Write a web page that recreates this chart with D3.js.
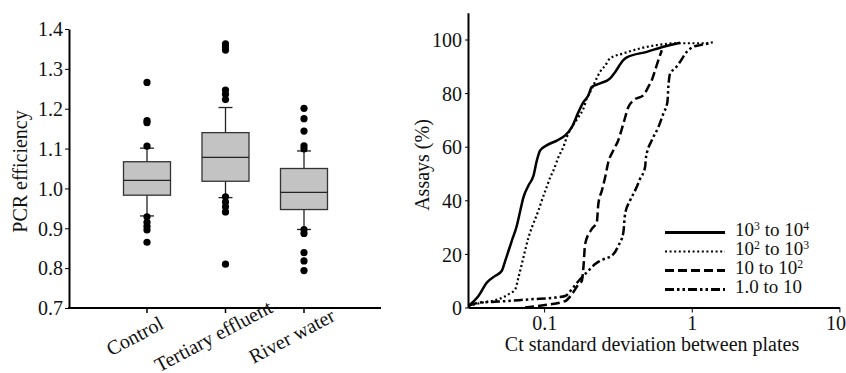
<!DOCTYPE html>
<html>
<head>
<meta charset="utf-8">
<script src="https://cdn.jsdelivr.net/npm/d3@7"></script>
<style>
  body { margin: 0; background: #fff; }
  svg text { font-family: "Liberation Serif", "Times New Roman", serif; fill: #111; }
</style>
</head>
<body>
<div id="chart"></div>
<script>
// ---- left panel: PCR efficiency box plots
const groups = ["Control", "Tertiary effluent", "River water"];
const boxQ1 = [0.983, 1.018, 0.947];
const boxMedian = [1.020, 1.078, 0.990];
const boxQ3 = [1.067, 1.140, 1.050];
const whiskerLow = [0.931, 0.977, 0.897];
const whiskerHigh = [1.101, 1.203, 1.094];
const outliers = [
    [1.266, 1.170, 1.165, 1.106, 0.929, 0.915, 0.905, 0.896, 0.865],
    [1.363, 1.355, 1.347, 1.247, 1.236, 1.223, 0.979, 0.966, 0.954, 0.941, 0.810],
    [1.201, 1.175, 1.144, 1.107, 1.099, 0.897, 0.887, 0.839, 0.818, 0.794]
];
const effTicks = [0.7, 0.8, 0.9, 1.0, 1.1, 1.2, 1.3, 1.4];

// ---- right panel: cumulative % of assays vs Ct SD
const seriesNames = ["10^3 to 10^4", "10^2 to 10^3", "10 to 10^2", "1.0 to 10"];
const sd1e3 = [[0.0307, 0.6], [0.0359, 4.3], [0.0409, 9.3], [0.0466, 11.8], [0.0517, 13.7], [0.0545, 17.4],
    [0.0604, 24.9], [0.0653, 30.5], [0.0689, 36.1], [0.0724, 41.1], [0.0783, 45.5], [0.0847, 49.2],
    [0.0893, 54.9], [0.094, 58.6], [0.104, 60.5], [0.122, 62.3], [0.139, 64.2], [0.154, 67.3],
    [0.171, 73.0], [0.185, 76.7], [0.1995, 79.2], [0.210, 82.3], [0.239, 83.6], [0.280, 85.5],
    [0.303, 87.9], [0.344, 92.3], [0.363, 93.3], [0.496, 95.4], [0.643, 97.3], [0.834, 98.8]];
const sd1e2 = [[0.0307, 0.6], [0.0379, 1.8], [0.049, 3.1], [0.0573, 4.9], [0.0637, 6.8], [0.067, 11.2],
    [0.0706, 16.2], [0.0743, 21.2], [0.0783, 26.1], [0.0826, 29.9], [0.0869, 33.0], [0.0914, 36.1],
    [0.0964, 39.9], [0.104, 44.9], [0.110, 48.6], [0.1156, 51.1], [0.125, 56.1], [0.135, 59.9],
    [0.1425, 63.6], [0.154, 67.3], [0.171, 71.1], [0.1845, 74.2], [0.1945, 78.0], [0.205, 80.4],
    [0.221, 84.2], [0.239, 87.9], [0.260, 90.4], [0.280, 93.0], [0.344, 94.8], [0.447, 96.7],
    [0.579, 97.9], [0.791, 98.6], [0.974, 98.6], [1.26, 98.6], [1.39, 99.0]];
const sd1e1 = [[0.0743, 0.0], [0.1016, 0.9], [0.139, 2.4], [0.154, 4.9], [0.171, 8.7], [0.180, 9.9],
    [0.1845, 14.9], [0.1896, 23.7], [0.2105, 29.3], [0.2274, 31.8], [0.233, 38.7], [0.246, 43.6],
    [0.259, 48.6], [0.272, 54.2], [0.294, 58.6], [0.318, 62.4], [0.344, 68.6], [0.372, 74.8],
    [0.403, 77.3], [0.470, 79.2], [0.508, 82.3], [0.536, 84.8], [0.565, 88.6], [0.594, 92.3], [0.627, 96.0]];
const sd1e0 = [[0.0307, 0.6], [0.0359, 1.8], [0.049, 2.2], [0.0826, 3.1], [0.1187, 3.7], [0.139, 4.3],
    [0.154, 6.8], [0.171, 9.9], [0.1995, 13.7], [0.2215, 16.2], [0.239, 17.4], [0.2945, 19.9],
    [0.318, 23.0], [0.344, 28.0], [0.3535, 34.9], [0.382, 39.9], [0.413, 43.6], [0.4467, 48.0],
    [0.483, 52.4], [0.490, 56.1], [0.536, 62.4], [0.594, 67.3], [0.642, 72.4], [0.684, 76.7],
    [0.694, 82.3], [0.713, 87.3], [0.771, 89.2], [0.834, 91.7], [0.925, 95.4], [1.025, 97.3],
    [1.138, 97.9], [1.33, 98.6]];
const seriesData = [sd1e3, sd1e2, sd1e1, sd1e0];
const seriesDash = [null, "2,2.6", "9,4", "9,3,2.5,3,2.5,3"];
const pctTicks = [0, 20, 40, 60, 80, 100];
const sdTicks = [0.1, 1, 10];

const W = 846, H = 373;
const svg = d3.select("#chart").append("svg")
    .attr("width", W)
    .attr("height", H);

const fs = 20;

// ================= left panel =================
const yEff = d3.scaleLinear().domain([0.7, 1.4]).range([308, 29]);
const xGrp = d3.scalePoint().domain(groups).range([147, 304]);
const left = svg.append("g");

// y axis
const yAxL = left.append("g")
    .attr("transform", "translate(69,0)")
    .call(d3.axisLeft(yEff).tickValues(effTicks).tickFormat(d3.format(".1f")).tickSize(4).tickSizeOuter(0));
yAxL.select(".domain").attr("stroke-width", 2);
yAxL.selectAll("text").attr("font-size", fs).attr("x", -6).attr("dy", "0.34em");

// x axis line with category ticks
left.append("line")
    .attr("x1", 68).attr("x2", 381)
    .attr("y1", yEff(0.7)).attr("y2", yEff(0.7))
    .attr("stroke", "#000").attr("stroke-width", 2);
left.selectAll(".gtick")
    .data(groups)
    .enter()
    .append("line")
    .attr("x1", d => xGrp(d)).attr("x2", d => xGrp(d))
    .attr("y1", yEff(0.7)).attr("y2", yEff(0.7) + 5)
    .attr("stroke", "#000").attr("stroke-width", 1.5);
left.selectAll(".glabel")
    .data(groups)
    .enter()
    .append("text")
    .attr("font-size", fs)
    .attr("text-anchor", "middle")
    .attr("transform", d => `translate(${xGrp(d) - 9},${yEff(0.7) + 34})rotate(-28)`)
    .text(d => d);

left.append("text")
    .attr("font-size", fs)
    .attr("text-anchor", "middle")
    .attr("transform", `translate(27,${(yEff(0.7) + yEff(1.4)) / 2 + 3})rotate(-90)`)
    .text("PCR efficiency");

// boxes
const boxW = 47, capW = 14;
groups.forEach((g, i) => {
    const cx = xGrp(g);
    const gg = left.append("g");
    gg.append("line")
        .attr("x1", cx).attr("x2", cx)
        .attr("y1", yEff(whiskerHigh[i])).attr("y2", yEff(whiskerLow[i]))
        .attr("stroke", "#222").attr("stroke-width", 1.3);
    [whiskerHigh[i], whiskerLow[i]].forEach(v => {
        gg.append("line")
            .attr("x1", cx - capW / 2).attr("x2", cx + capW / 2)
            .attr("y1", yEff(v)).attr("y2", yEff(v))
            .attr("stroke", "#222").attr("stroke-width", 1.3);
    });
    gg.append("rect")
        .attr("x", cx - boxW / 2)
        .attr("y", yEff(boxQ3[i]))
        .attr("width", boxW)
        .attr("height", yEff(boxQ1[i]) - yEff(boxQ3[i]))
        .attr("fill", "#c3c3c3")
        .attr("stroke", "#333").attr("stroke-width", 1.3);
    gg.append("line")
        .attr("x1", cx - boxW / 2).attr("x2", cx + boxW / 2)
        .attr("y1", yEff(boxMedian[i])).attr("y2", yEff(boxMedian[i]))
        .attr("stroke", "#222").attr("stroke-width", 1.3);
    gg.selectAll("circle")
        .data(outliers[i])
        .enter()
        .append("circle")
        .attr("cx", cx)
        .attr("cy", d => yEff(d))
        .attr("r", 3.6)
        .attr("fill", "#000");
});

// ================= right panel =================
const xSd = d3.scaleLog().domain([0.0305, 10]).range([468, 839.4]);
const yPct = d3.scaleLinear().domain([0, 110]).range([307.5, 12.7]);
const right = svg.append("g");

const xAxR = right.append("g")
    .attr("transform", `translate(0,${yPct(0)})`)
    .call(d3.axisBottom(xSd).tickValues(sdTicks).tickFormat(d3.format("")).tickSize(5).tickSizeOuter(0));
xAxR.select(".domain").attr("stroke-width", 2);
xAxR.selectAll("text").attr("font-size", fs).attr("y", 8);
xAxR.selectAll(".tick:last-of-type text").attr("dx", -4);

const yAxR = right.append("g")
    .attr("transform", `translate(${xSd.range()[0]},0)`)
    .call(d3.axisLeft(yPct).tickValues(pctTicks).tickSize(3).tickSizeOuter(0));
yAxR.select(".domain").attr("stroke-width", 2);
yAxR.selectAll("text").attr("font-size", fs).attr("x", -6).attr("dy", "0.36em");

right.append("text")
    .attr("font-size", fs)
    .attr("text-anchor", "middle")
    .attr("x", 652).attr("y", 351)
    .text("Ct standard deviation between plates");

right.append("text")
    .attr("font-size", fs)
    .attr("text-anchor", "middle")
    .attr("transform", `translate(429,165)rotate(-90)`)
    .text("Assays (%)");

const line = d3.line()
    .x(d => xSd(d[0]))
    .y(d => yPct(d[1]))
    .curve(d3.curveMonotoneX);

seriesData.forEach((s, i) => {
    right.append("path")
        .datum(s)
        .attr("fill", "none")
        .attr("stroke", "#000")
        .attr("stroke-width", i === 1 ? 2.2 : 2.5)
        .attr("stroke-dasharray", seriesDash[i])
        .attr("d", line);
});

// legend
const legY = [232.5, 251.5, 270.5, 289.5];
const legFs = 19;
const legend = right.append("g");
seriesNames.forEach((name, i) => {
    legend.append("line")
        .attr("x1", 665).attr("x2", 725)
        .attr("y1", legY[i]).attr("y2", legY[i])
        .attr("stroke", "#000")
        .attr("stroke-width", i === 1 ? 2.2 : 2.8)
        .attr("stroke-dasharray", seriesDash[i]);
    const t = legend.append("text")
        .attr("font-size", legFs)
        .attr("x", 735).attr("y", legY[i] + 3);
    const parts = name.split(/\^(\d)/);
    parts.forEach((p, k) => {
        if (p === "") return;
        if (k % 2 === 1) {
            t.append("tspan").attr("font-size", legFs * 0.62).attr("dy", -5.5).text(p);
        } else {
            t.append("tspan").attr("dy", k > 0 ? 5.5 : 0).text(p);
        }
    });
});
</script>
</body>
</html>
